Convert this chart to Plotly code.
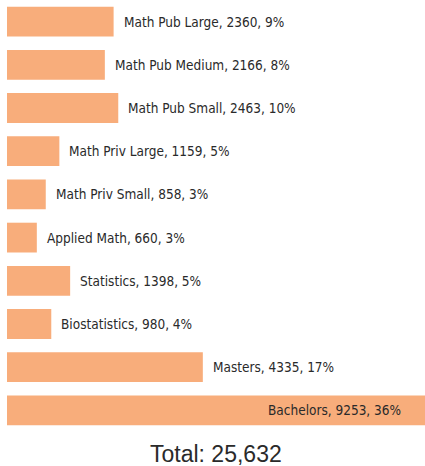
import plotly.graph_objects as go

categories = ["Math Pub Large", "Math Pub Medium", "Math Pub Small", "Math Priv Large",
              "Math Priv Small", "Applied Math", "Statistics", "Biostatistics",
              "Masters", "Bachelors"]
counts = [2360, 2166, 2463, 1159, 858, 660, 1398, 980, 4335, 9253]
percents = [9, 8, 10, 5, 3, 3, 5, 4, 17, 36]
total_label = "Total: 25,632"

BAR = "#F8AD7B"
TXT = "#2a2a2a"
FONT = "Liberation Sans Narrow, DejaVu Sans Condensed, Liberation Sans, sans-serif"

fig = go.Figure(go.Bar(
    x=counts, y=categories, orientation="h", width=0.69,
    marker=dict(color=BAR, line=dict(width=0)), hoverinfo="skip",
))

max_c = max(counts)
for c, n, p in zip(categories, counts, percents):
    label = f"{c}, {n}, {p}%"
    f = dict(family=FONT, size=13.5, color=TXT)
    if n == max_c:
        fig.add_annotation(x=n, y=c, text=label, showarrow=False, xanchor="right",
                           xshift=-22, font=f)
    else:
        fig.add_annotation(x=n, y=c, text=label, showarrow=False, xanchor="left",
                           xshift=8, font=f)

fig.add_annotation(x=0.5, y=0, xref="paper", yref="paper", text=total_label,
                   showarrow=False, xanchor="center", yanchor="middle", yshift=-22,
                   font=dict(family="Liberation Sans, Arial, sans-serif", size=23, color=TXT))

fig.update_layout(
    width=425, height=466, margin=dict(l=7, r=0, t=0, b=34),
    plot_bgcolor="white", paper_bgcolor="white", showlegend=False,
    xaxis=dict(range=[0, max_c], visible=False, fixedrange=True),
    yaxis=dict(range=[9.5, -0.5], visible=False, fixedrange=True),
)

post = ("document.body.style.margin='0';document.body.style.padding='0';"
        "document.body.style.overflow='hidden';"
        "document.head.insertAdjacentHTML('beforeend','<style>.annotation-text{font-stretch:condensed !important}</style>');"
        "var gd=document.getElementById('{plot_id}');"
        "Plotly.relayout(gd,{width:425,height:466});")
fig.write_html("out.html", post_script=post,
               config={"responsive": False, "displayModeBar": False})
